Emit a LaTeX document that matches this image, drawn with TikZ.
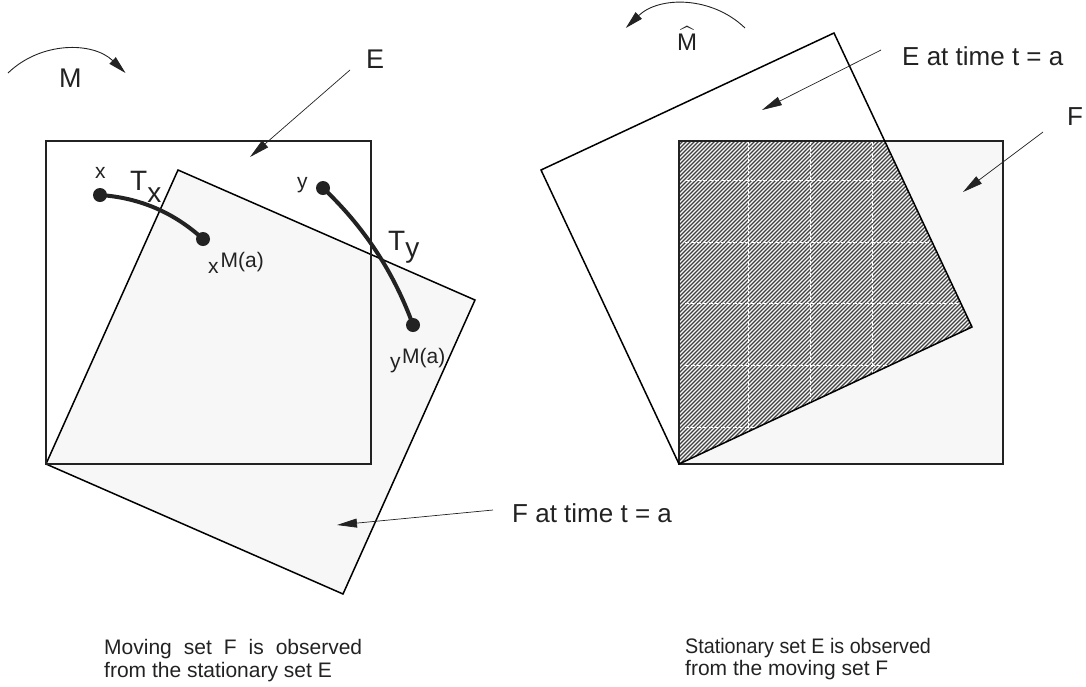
\documentclass[tikz,border=0pt]{standalone}
\usepackage{fontspec}
\setmainfont{Liberation Sans}
\usepackage{amsmath}
\usepackage{graphicx}
\usetikzlibrary{arrows.meta}
\definecolor{ink}{HTML}{222222}
\definecolor{paleF}{HTML}{F7F7F7}
\begin{document}
\begin{tikzpicture}[x=1pt,y=-1pt,
  lbl/.style={inner sep=0pt, anchor=base west, text=ink},
  big/.style={font=\fontsize{27}{30}\selectfont},
  bigger/.style={font=\fontsize{28}{30}\selectfont},
  mid/.style={font=\fontsize{21}{24}\selectfont},
  sqline/.style={draw=ink, line width=1.5pt},
  pointer/.style={draw=ink, line width=0.7pt, -{Triangle[length=20pt,width=9pt]}},
  turn/.style={draw=ink, line width=0.9pt, -{Triangle[length=18pt,width=9pt]}},
  trajline/.style={draw=ink, line width=4pt},
  dot/.style={circle, fill=ink, inner sep=0pt, minimum size=14pt},
  hatchline/.style={draw=black!75, line width=1.1pt},
  gridline/.style={draw=white, line width=1pt, dash pattern=on 4pt off 2pt}
]
\useasboundingbox (0,0) rectangle (1086,686);

% ---------------- left picture ----------------
\filldraw[fill=paleF, draw=black, line width=1.5pt]
  (46,464) -- (178,170) -- (475,300) -- (343,594) -- cycle;
\draw[sqline] (46,141) rectangle (371,464);

\node[dot] (x0) at (100,195) {};
\node[dot] (x1) at (203,239) {};
\node[dot] (y0) at (323,188) {};
\node[dot] (y1) at (413,325) {};
\draw[trajline] (x0.center) .. controls (139.4,197.7) and (173.8,212.3) .. (x1.center);
\draw[trajline] (y0.center) .. controls (363.9,226.6) and (393.9,272.2) .. (y1.center);

\node[lbl,mid] (xl) at (95,178) {x};
\node[lbl,bigger] (Tx) at (130,190) {T\raisebox{-12pt}{x}};
\node[lbl,mid] (xM) at (208,273) {x\hspace{2pt}\raisebox{6pt}{M(a)}};
\node[lbl,mid] (yl) at (297,188) {y};
\node[lbl,bigger] (Ty) at (388,250) {T\raisebox{-7pt}{y}};
\node[lbl,mid] (yM) at (390,368) {y\hspace{1.5pt}\raisebox{5pt}{M(a)}};

\node[lbl,big] (Mleft) at (59,87) {M};
\draw[turn] (8,73) arc[start angle=-134, end angle=-46, radius=84.6];

\node[lbl,big] (Eleft) at (366,68) {E};
\coordinate (eTail) at (350,70);
\coordinate (eTip) at (250,157);
\draw[pointer] (eTail) -- (eTip);

\node[lbl,font=\fontsize{26}{30}\selectfont] (Ftime) at (512,522) {F at time t = a};
\coordinate (fTail) at (493,510);
\coordinate (fTip) at (337,525);
\draw[pointer] (fTail) -- (fTip);

% ---------------- right picture ----------------
\filldraw[fill=paleF, draw=ink, line width=1.5pt] (679,141) rectangle (1003,464);
\begin{scope}
  \clip (679,141) -- (884.7,141) -- (972,327) -- (679,464) -- cycle;
  \foreach \c in {816,820,...,1444}
    \draw[hatchline] ({\c-464},464) -- ({\c-141},141);
  \foreach \gx in {748,810,872}
    \draw[gridline] (\gx,141) -- (\gx,464);
  \foreach \gy in {180,242,303,365,427}
    \draw[gridline] (685,\gy) -- (1003,\gy);
\end{scope}
\draw[sqline] (679,141) rectangle (1003,464);
\draw[draw=black, line width=1.5pt]
  (679,464) -- (972,327) -- (834,33) -- (541,170) -- cycle;

\node[lbl,font=\fontsize{24}{28}\selectfont] (Mhat) at (677,50) {$\widehat{\text{M}}$};
\draw[turn] (745,28) arc[start angle=-46, end angle=-134, radius=85.8];

\node[lbl,font=\fontsize{26}{30}\selectfont] (Etime) at (902,65) {E at time t = a};
\coordinate (e2Tail) at (881,50);
\coordinate (e2Tip) at (762,110);
\draw[pointer] (e2Tail) -- (e2Tip);

\node[lbl,font=\fontsize{26}{30}\selectfont] (Fright) at (1067,125) {F};
\coordinate (f2Tail) at (1043,132);
\coordinate (f2Tip) at (963,192);
\draw[pointer] (f2Tail) -- (f2Tip);

% ---------------- captions ----------------
\node[lbl,mid] (capL1) at (104,654) {\makebox[258pt][s]{Moving set F is observed}};
\node[lbl,mid] (capL2) at (104,677) {from the stationary set E};
\node[lbl,mid] (capR1) at (685,653) {\scalebox{0.94}[1]{Stationary set E is observed}};
\node[lbl,mid] (capR2) at (685,675) {from the moving set F};
\end{tikzpicture}
\end{document}
